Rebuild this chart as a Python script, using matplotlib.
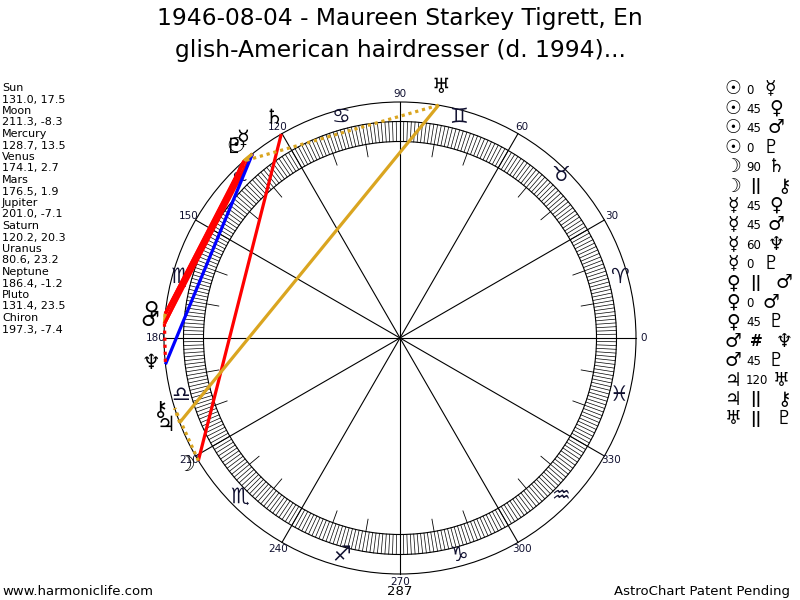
import numpy as np
import matplotlib
matplotlib.use("Agg")
import matplotlib.pyplot as plt
from matplotlib.patches import Circle

# ---------------- data ----------------
title_lines = ["1946-08-04 - Maureen Starkey Tigrett, En",
               "glish-American hairdresser (d. 1994)..."]
planet_names = ["Sun", "Moon", "Mercury", "Venus", "Mars", "Jupiter",
                "Saturn", "Uranus", "Neptune", "Pluto", "Chiron"]
planet_glyphs = ["☉", "☽", "☿", "♀", "♂", "♃", "♄", "♅", "♆", "♇", "⚷"]
planet_lon = [131.0, 211.3, 128.7, 174.1, 176.5, 201.0, 120.2, 80.6, 186.4, 131.4, 197.3]
planet_decl = [17.5, -8.3, 13.5, 2.7, 1.9, -7.1, 20.3, 23.2, -1.2, 23.5, -7.4]
sign_glyphs = ["♈", "♉", "♊", "♋", "♌", "♍", "♎", "♏", "♐", "♑", "♒", "♓"]
degree_labels = [0, 30, 60, 90, 120, 150, 180, 210, 240, 270, 300, 330]

aspect_a = ["Sun", "Sun", "Sun", "Sun", "Moon", "Moon", "Mercury", "Mercury",
            "Mercury", "Mercury", "Venus", "Venus", "Venus", "Mars", "Mars",
            "Jupiter", "Jupiter", "Uranus"]
aspect_type = ["0", "45", "45", "0", "90", "||", "45", "45", "60", "0",
               "||", "0", "45", "#", "45", "120", "||", "||"]
aspect_b = ["Mercury", "Venus", "Mars", "Pluto", "Saturn", "Chiron", "Venus",
            "Mars", "Neptune", "Pluto", "Mars", "Mars", "Pluto", "Neptune",
            "Pluto", "Uranus", "Chiron", "Pluto"]

footer_left = "www.harmoniclife.com"
footer_mid = "287"
footer_right = "AstroChart Patent Pending"

# ---------------- styles ----------------
GOLD = "#DAA520"
DOT = (0, (1, 1.2))
aspect_style = {"0": (GOLD, "-"), "45": ("red", "-"), "90": ("red", "-"),
                "60": ("blue", "-"), "120": (GOLD, "-"),
                "||": (GOLD, DOT), "#": ("red", DOT)}
GLYPH_FONT = ["DejaVu Sans", "Noto Sans", "Noto Sans CJK SC"]

CX, CY = 400.0, 338.0
R_OUT = 236.0
R_BAND_OUT = 216.5
R_BAND_IN = 196.5
R_LONG = 184.0

fig = plt.figure(figsize=(8, 6), dpi=100)
ax = fig.add_axes([0, 0, 1, 1])
ax.set_xlim(0, 800)
ax.set_ylim(600, 0)
ax.axis("off")


def pol(lon, r):
    t = np.deg2rad(lon)
    return CX + r * np.cos(t), CY - r * np.sin(t)


# circles
for r in (R_OUT, R_BAND_OUT, R_BAND_IN):
    ax.add_patch(Circle((CX, CY), r, fill=False, ec="black", lw=0.8, zorder=2))

# degree ticks in the band
for d in range(360):
    x0, y0 = pol(d, R_BAND_IN)
    x1, y1 = pol(d, R_BAND_OUT)
    ax.plot([x0, x1], [y0, y1], color="black", lw=0.5, zorder=2)
    if d % 10 == 0 and d % 30 != 0:
        x2, y2 = pol(d, R_LONG)
        ax.plot([x2, x0], [y2, y0], color="black", lw=0.6, zorder=2)

# spokes every 30 degrees + labels
for d in degree_labels:
    x1, y1 = pol(d, R_OUT)
    ax.plot([CX, x1], [CY, y1], color="black", lw=0.8, zorder=2)
    lx, ly = pol(d, R_OUT + 8)
    ax.text(lx, ly, str(d), fontsize=7.5, ha="center", va="center",
            color="#101030", zorder=3)

# sign glyphs
for i, g in enumerate(sign_glyphs):
    x, y = pol(15 + 30 * i, 227)
    ax.text(x, y - 2, g, fontsize=15, ha="center", va="center",
            family=GLYPH_FONT, color="#101030", zorder=3)

# planet glyphs
for g, lon in zip(planet_glyphs, planet_lon):
    x, y = pol(lon, 251)
    ax.text(x, y - 3, g, fontsize=15, ha="center", va="center",
            family=GLYPH_FONT, color="black", zorder=5)

# aspect lines
lon_of = dict(zip(planet_names, planet_lon))
for a, t, b in zip(aspect_a, aspect_type, aspect_b):
    col, ls = aspect_style[t]
    xa, ya = pol(lon_of[a], R_OUT)
    xb, yb = pol(lon_of[b], R_OUT)
    ax.plot([xa, xb], [ya, yb], color=col, ls=ls, lw=2.3, zorder=4,
            solid_capstyle="butt")

# title
ax.text(400, 25, title_lines[0], fontsize=16.8, ha="center", va="baseline")
ax.text(400, 57.5, title_lines[1], fontsize=16.8, ha="center", va="baseline")

# left planet table
y = 91
for n, lon, dec in zip(planet_names, planet_lon, planet_decl):
    ax.text(2, y, n, fontsize=8, ha="left", va="baseline")
    ax.text(2, y + 11.5, f"{lon:.1f}, {dec:.1f}", fontsize=8, ha="left", va="baseline")
    y += 23.0

# right aspect list
gly_of = dict(zip(planet_names, planet_glyphs))
for i, (a, t, b) in enumerate(zip(aspect_a, aspect_type, aspect_b)):
    yy = 89 + 19.4 * i
    ax.text(733, yy, gly_of[a], fontsize=13.5, ha="center", va="center",
            family=GLYPH_FONT, fontweight="bold")
    if t in ("||", "#"):
        ax.text(756, yy, t, fontsize=11, ha="center", va="center",
                fontweight="bold")
        gx = 784
    else:
        ax.text(746, yy + 1, t, fontsize=8.5, ha="left", va="center")
        gx = 765 + 5.5 * len(t)
    ax.text(gx, yy, gly_of[b], fontsize=13.5, ha="center", va="center",
            family=GLYPH_FONT, fontweight="bold")

# footer
ax.text(2, 595, footer_left, fontsize=9.5, ha="left", va="baseline")
ax.text(400, 595, footer_mid, fontsize=9.5, ha="center", va="baseline")
ax.text(790, 595, footer_right, fontsize=9.5, ha="right", va="baseline")

fig.savefig("out.png", dpi=100)
